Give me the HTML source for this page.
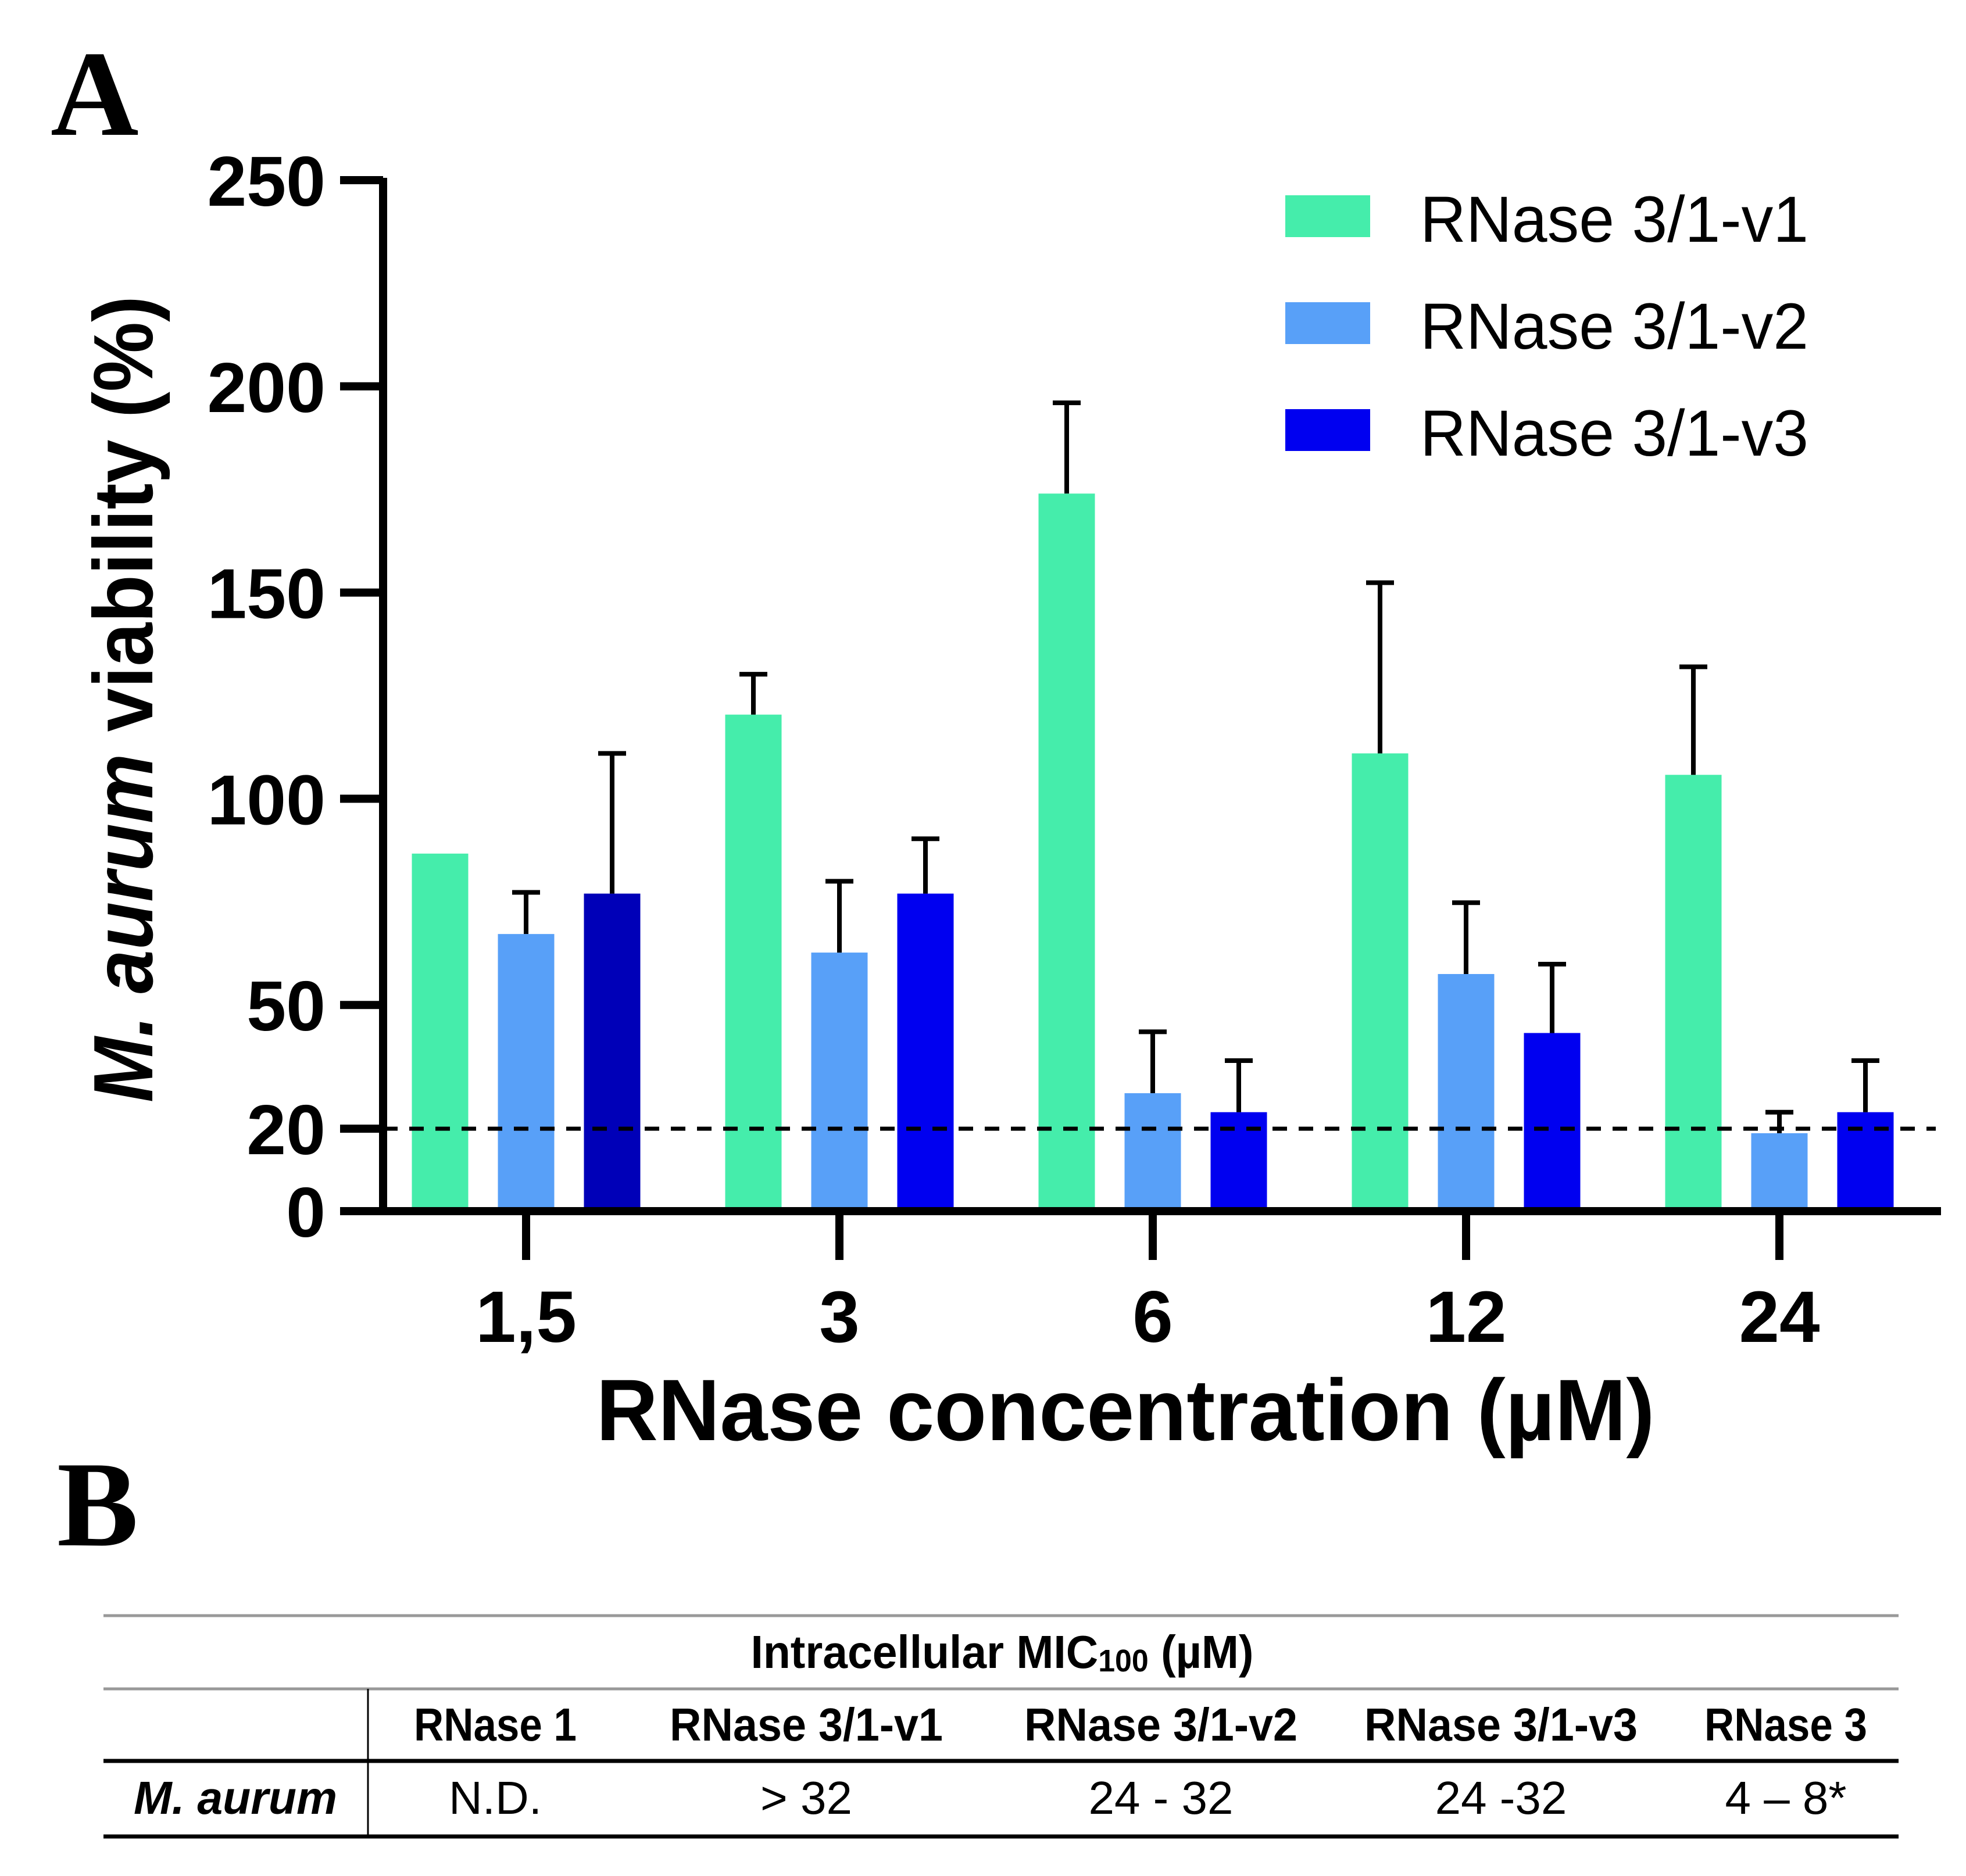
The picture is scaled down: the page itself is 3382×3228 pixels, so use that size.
<!DOCTYPE html>
<html><head><meta charset="utf-8"><style>
html,body{margin:0;padding:0;background:#fff;}
svg{display:block;}
text{font-family:"Liberation Sans",sans-serif;}
</style></head><body>
<svg id="fig" width="3382" height="3228" viewBox="0 0 3382 3228" xmlns="http://www.w3.org/2000/svg">
<text x="87" y="232" font-weight="bold" font-size="210" style="font-family:'Liberation Serif',serif">A</text>
<g id="chart"></g>
<text x="98" y="2659" font-weight="bold" font-size="210" style="font-family:'Liberation Serif',serif">B</text>
<g font-size="80">
<line x1="178" y1="2780" x2="3266" y2="2780" stroke="#999" stroke-width="5"/>
<line x1="178" y1="2906" x2="3266" y2="2906" stroke="#999" stroke-width="5"/>
<line x1="178" y1="3030" x2="3266" y2="3030" stroke="#000" stroke-width="7"/>
<line x1="178" y1="3160" x2="3266" y2="3160" stroke="#000" stroke-width="7"/>
<line x1="633" y1="2906" x2="633" y2="3160" stroke="#000" stroke-width="3"/>
<text x="1724" y="2870" text-anchor="middle" font-weight="bold" textLength="865" lengthAdjust="spacingAndGlyphs">Intracellular MIC<tspan font-size="54" dy="6">100</tspan><tspan dy="-6"> (µM)</tspan></text>
<text x="852" y="2995" text-anchor="middle" font-weight="bold" textLength="280" lengthAdjust="spacingAndGlyphs">RNase 1</text>
<text x="1387" y="2995" text-anchor="middle" font-weight="bold" textLength="470" lengthAdjust="spacingAndGlyphs">RNase 3/1-v1</text>
<text x="1997" y="2995" text-anchor="middle" font-weight="bold" textLength="470" lengthAdjust="spacingAndGlyphs">RNase 3/1-v2</text>
<text x="2582" y="2995" text-anchor="middle" font-weight="bold" textLength="470" lengthAdjust="spacingAndGlyphs">RNase 3/1-v3</text>
<text x="3072" y="2995" text-anchor="middle" font-weight="bold" textLength="280" lengthAdjust="spacingAndGlyphs">RNase 3</text>
<text x="405" y="3121" text-anchor="middle" font-weight="bold" font-style="italic" textLength="350" lengthAdjust="spacingAndGlyphs">M. aurum</text>
<text x="852" y="3121" text-anchor="middle">N.D.</text>
<text x="1387" y="3121" text-anchor="middle">&gt; 32</text>
<text x="1997" y="3121" text-anchor="middle">24 - 32</text>
<text x="2582" y="3121" text-anchor="middle">24 -32</text>
<text x="3072" y="3121" text-anchor="middle">4 – 8*</text>
</g>
</svg>
<script>
const categories = ["1,5", "3", "6", "12", "24"];
const seriesNames = ["RNase 3/1-v1", "RNase 3/1-v2", "RNase 3/1-v3"];
const v1Values = [86.7, 120.4, 174, 111, 105.8];
const v1Errors = [0, 9.8, 22, 41.4, 26.2];
const v2Values = [67.2, 62.7, 28.6, 57.5, 18.9];
const v2Errors = [10.1, 17.3, 14.9, 17.3, 5.1];
const v3Values = [77, 77, 24, 43.2, 24];
const v3Errors = [34, 13.3, 12.5, 16.7, 12.5];
const yTicks = [0, 20, 50, 100, 150, 200, 250];
const thresholdValue = 20;

const NS = "http://www.w3.org/2000/svg";
const g = document.getElementById("chart");
const X0 = 659, Y0 = 2084, YMAX = 310, VMAX = 250;
const yScale = v => Y0 - (v / VMAX) * (Y0 - YMAX);
const xScale = i => 905 + i * 539;
const colors = ["#45EDAB", "#58A0F8", "#0000F0"];
const values = [v1Values, v2Values, v3Values];
const errors = [v1Errors, v2Errors, v3Errors];
const offsets = [-148, 0, 148];
function el(tag, attrs) {
  const e = document.createElementNS(NS, tag);
  for (const k in attrs) e.setAttribute(k, attrs[k]);
  g.appendChild(e);
  return e;
}
values.forEach((arr, s) => {
  arr.forEach((v, i) => {
    const cx = xScale(i) + offsets[s];
    const fill = (s === 2 && i === 0) ? "#0000B8" : colors[s];
    const r = el("rect", {x: cx - 48.5, y: yScale(v), width: 97, height: Y0 - yScale(v), fill: fill});
    
    
    const e = errors[s][i];
    if (e > 0) {
      const l = el("path", {d: "M" + cx + " " + yScale(v) + "V" + yScale(v + e) + "M" + (cx - 24) + " " + yScale(v + e) + "H" + (cx + 24), stroke: "#000", "stroke-width": 8, fill: "none"});
      
      
    }
  });
});
const th = el("line", {x1: X0, x2: 3330, y1: yScale(thresholdValue), y2: yScale(thresholdValue), stroke: "#000", "stroke-width": 7, "stroke-dasharray": "25 20"});


const ya = el("line", {x1: X0, x2: X0, y1: YMAX - 4, y2: Y0 + 7, stroke: "#000", "stroke-width": 14});


const xa = el("line", {x1: 585, x2: 3339, y1: Y0, y2: Y0, stroke: "#000", "stroke-width": 14});


yTicks.forEach(t => {
  const y = yScale(t);
  if (t > 0) {
    const tk = el("line", {x1: 585, x2: X0, y1: y, y2: y, stroke: "#000", "stroke-width": 14});
    
    
  }
  const tx = el("text", {x: 560, y: y + 44, "text-anchor": "end", "font-weight": "bold", "font-size": 122});
  tx.textContent = t;
  
  
});
categories.forEach((c, i) => {
  const x = xScale(i);
  const tk = el("line", {x1: x, x2: x, y1: Y0, y2: 2168, stroke: "#000", "stroke-width": 14});
  
  
  const tx = el("text", {x: x, y: 2309, "text-anchor": "middle", "font-weight": "bold", "font-size": 125});
  tx.textContent = c;
  
  
});
const xt = el("text", {x: 1936, y: 2478, "text-anchor": "middle", "font-weight": "bold", "font-size": 150, textLength: 1821, lengthAdjust: "spacingAndGlyphs"});
xt.textContent = "RNase concentration (µM)";


const yt = el("text", {x: 0, y: 0, "text-anchor": "middle", "font-weight": "bold", "font-size": 145, textLength: 1388, lengthAdjust: "spacingAndGlyphs", transform: "translate(262,1203) rotate(-90)"});
yt.innerHTML = '<tspan font-style="italic">M. aurum</tspan> viability (%)';


seriesNames.forEach((n, s) => {
  const y = 336 + s * 184;
  const sw = el("rect", {x: 2211, y: y, width: 146, height: 72, fill: colors[s]});
  
  
  const t = el("text", {x: 2443, y: y + 80, "font-size": 112, textLength: 668, lengthAdjust: "spacingAndGlyphs"});
  t.textContent = n;
  
  
});
</script>
</body></html>
